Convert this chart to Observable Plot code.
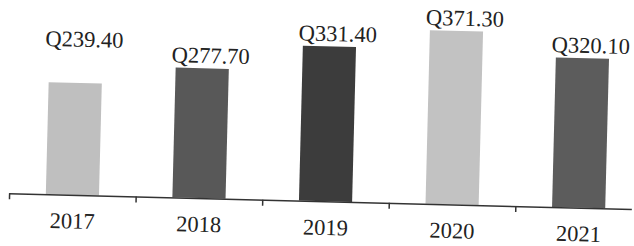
<!DOCTYPE html>
<html>
<head>
<meta charset="utf-8">
<script src="https://cdn.jsdelivr.net/npm/d3@7"></script>
<script src="https://cdn.jsdelivr.net/npm/@observablehq/plot@0.6"></script>
<style>
  html, body { margin: 0; padding: 0; background: #ffffff; overflow: hidden; }
  #chart svg { display: block; transform: rotate(1.45deg); transform-origin: 317px 123px; }
</style>
</head>
<body>
<div id="chart"></div>
<script>
const years = [2017, 2018, 2019, 2020, 2021];
const values = [239.40, 277.70, 331.40, 371.30, 320.10];
const labels = ["Q239.40", "Q277.70", "Q331.40", "Q371.30", "Q320.10"];
const fills = ["#bfbfbf", "#585858", "#3c3c3c", "#c2c2c2", "#5c5c5c"];

const data = years.map((y, i) => ({year: y, value: values[i], label: labels[i], fill: fills[i]}));
const boundaries = [years[0] - 0.5, ...years.map(y => y + 0.5)];

const chart = Plot.plot({
  width: 634,
  height: 246,
  marginTop: 0,
  marginBottom: 45,
  marginLeft: 11,
  marginRight: 0,
  style: {fontFamily: "'Liberation Serif', 'Times New Roman', serif", background: "transparent"},
  x: {type: "linear", domain: [2016.5, 2021.5], range: [11, 644], axis: null},
  y: {domain: [0, 400], range: [201, 14], axis: null},
  marks: [
    Plot.rectY(data, {x1: d => d.year - 0.21, x2: d => d.year + 0.21, y1: 0, y2: "value", fill: "fill"}),
    Plot.ruleY([0], {stroke: "#333", strokeWidth: 1.5}),
    Plot.ruleX(boundaries, {x: d => d, y1: 0, y2: 0, insetBottom: -6, stroke: "#333", strokeWidth: 1.5}),
    Plot.text(data.filter(d => d.year !== 2017), {x: d => d.year + 0.06, y: "value", text: "label", dy: -13, fontSize: 22.5, fill: "#222"}),
    Plot.text(data.filter(d => d.year === 2017), {x: d => d.year + 0.06, y: "value", text: "label", dy: -44, fontSize: 22.5, fill: "#222"}),
    Plot.text(data, {x: "year", y: 0, text: d => String(d.year), dy: 26, fontSize: 22.5, fill: "#222"})
  ]
});
document.getElementById("chart").appendChild(chart);
</script>
</body>
</html>
